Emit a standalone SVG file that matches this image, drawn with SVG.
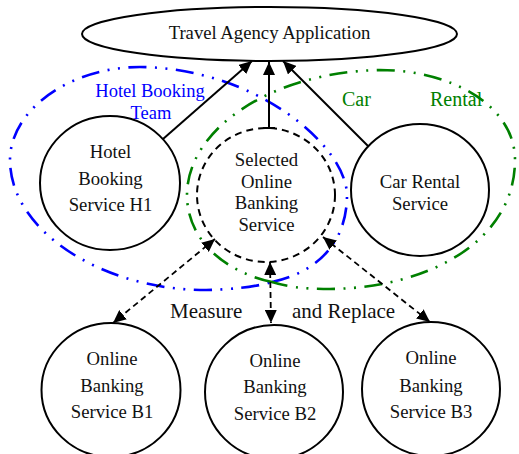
<svg xmlns="http://www.w3.org/2000/svg" width="519" height="454" viewBox="0 0 519 454">
  <style>
    text { font-family: "Liberation Serif", "Times New Roman", serif; font-size: 18.7px; fill: #111; }
    .mid { text-anchor: middle; }
    .node { fill: none; stroke: #000; stroke-width: 2; }
    .dashed { stroke-dasharray: 7 5; }
    .team-blue { fill: none; stroke: #0000ff; stroke-width: 2.6; stroke-dasharray: 18 8.5 2 8.5 2 8.5; }
    .team-green { fill: none; stroke: #008000; stroke-width: 2.6; stroke-dasharray: 18 8.5 2 8.5 2 8.5; }
    .blue { fill: #0000ff; font-size: 18.5px; }
    .green { fill: #008000; font-size: 20px; }
    .big { font-size: 21px; }
    .link { fill: none; stroke: #000; stroke-width: 2; }
    .exchange { fill: none; stroke: #000; stroke-width: 1.8; stroke-dasharray: 6 4; }
  </style>
  <defs>
    <marker id="head" markerUnits="userSpaceOnUse" markerWidth="14" markerHeight="12" refX="13" refY="6" orient="auto-start-reverse">
      <path d="M0,0 L13,6 L0,12 z" fill="#000"/>
    </marker>
  </defs>

  <rect width="519" height="454" fill="#fff"/>

  <!-- team boundaries -->
  <g id="hotel-booking-team">
    <path class="team-blue" d="M272,282 C318,272 347,242 347,195 C346,145 255,68 140,67 C70,67 10,110 10,160 C10,230 100,288 200,290 C230,290 255,287 272,282 Z"/>
    <text class="mid blue" x="150" y="97">Hotel Booking</text>
    <text class="mid blue" x="151" y="119">Team</text>
  </g>
  <g id="car-rental-team">
    <path class="team-green" d="M272,282 C225,272 187,240 187,195 C187,130 270,72 380,70 C450,70 515,105 515,160 C515,240 430,288 330,289 C300,289 285,286 272,282 Z"/>
    <text class="green" x="342" y="106">Car</text>
    <text class="green" x="430" y="106">Rental</text>
  </g>

  <!-- nodes -->
  <g id="travel-agency">
    <ellipse class="node" cx="269.5" cy="34" rx="187.5" ry="27"/>
    <text class="mid" x="269.5" y="38.5">Travel Agency Application</text>
  </g>
  <g id="hotel-h1">
    <ellipse class="node" cx="110" cy="183" rx="70" ry="67"/>
    <text class="mid" x="110.5" y="158">Hotel</text>
    <text class="mid" x="110.5" y="185">Booking</text>
    <text class="mid" x="110.5" y="211">Service H1</text>
  </g>
  <g id="selected-banking">
    <ellipse class="node dashed" cx="266" cy="195" rx="69" ry="67"/>
    <text class="mid" x="266.5" y="166">Selected</text>
    <text class="mid" x="266.5" y="187.5">Online</text>
    <text class="mid" x="266.5" y="209">Banking</text>
    <text class="mid" x="266.5" y="230.5">Service</text>
  </g>
  <g id="car-rental">
    <ellipse class="node" cx="420" cy="190" rx="69" ry="66"/>
    <text class="mid" x="420" y="188">Car Rental</text>
    <text class="mid" x="420" y="209.5">Service</text>
  </g>
  <g id="banking-b1">
    <ellipse class="node" cx="111" cy="390" rx="69.5" ry="67"/>
    <text class="mid" x="112" y="365">Online</text>
    <text class="mid" x="112" y="392">Banking</text>
    <text class="mid" x="112" y="418">Service B1</text>
  </g>
  <g id="banking-b2">
    <ellipse class="node" cx="274" cy="392" rx="69" ry="67"/>
    <text class="mid" x="275" y="367">Online</text>
    <text class="mid" x="275" y="393">Banking</text>
    <text class="mid" x="275" y="420">Service B2</text>
  </g>
  <g id="banking-b3">
    <ellipse class="node" cx="431" cy="389" rx="69" ry="67"/>
    <text class="mid" x="431" y="364">Online</text>
    <text class="mid" x="431" y="392">Banking</text>
    <text class="mid" x="431" y="418">Service B3</text>
  </g>

  <!-- connectors -->
  <g id="connectors">
    <line class="link" x1="163" y1="139" x2="252" y2="61" marker-end="url(#head)"/>
    <line class="link" x1="269" y1="128" x2="269" y2="62" marker-end="url(#head)"/>
    <line class="link" x1="263" y1="128" x2="275" y2="128"/>
    <line class="link" x1="368" y1="146" x2="283" y2="61" marker-end="url(#head)"/>

    <line class="exchange" x1="215" y1="239" x2="113" y2="323" marker-start="url(#head)" marker-end="url(#head)"/>
    <line class="exchange" x1="270" y1="262" x2="271" y2="323" marker-start="url(#head)" marker-end="url(#head)"/>
    <line class="exchange" x1="323" y1="237" x2="430" y2="322" marker-start="url(#head)" marker-end="url(#head)"/>

    <text class="big" x="170" y="318">Measure</text>
    <text class="big" x="292" y="318">and Replace</text>
  </g>
</svg>
